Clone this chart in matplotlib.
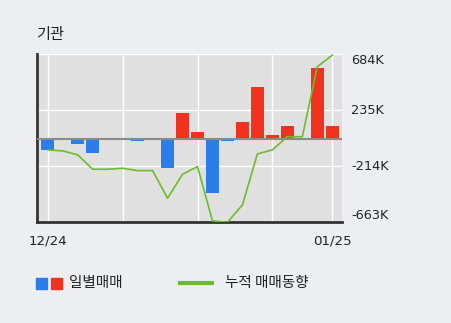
import matplotlib
matplotlib.use("Agg")
import matplotlib.pyplot as plt
from matplotlib.patches import Rectangle
from matplotlib.lines import Line2D
import numpy as np

plt.rcParams['font.family'] = ['Noto Sans CJK KR', 'DejaVu Sans']

title = "기관"
daily = [-85, 0, -40, -112, 10, 8, -10, 0, -227, 214, 61, -427, -10, 141, 422, 35, 107, 0, 574, 107]
cumulative = [-85, -93, -125, -240, -240, -232, -251, -251, -472, -280, -219, -654, -665, -526, -117, -85, 21, 21, 582, 675]
ytick_vals = [684, 235, -214, -663]
ytick_labels = ["684K", "235K", "-214K", "-663K"]
xtick_pos = [0, 19]
xtick_labels = ["12/24", "01/25"]
legend_bar = "일별매매"
legend_line = "누적 매매동향"

BLUE = "#2b7de9"
RED = "#f0321e"
GREEN = "#6cbd2c"
FIG_BG = "#edeef2"
AX_BG = "#e0e0e0"
TXT = "#222222"

fig = plt.figure(figsize=(4.51, 3.23), dpi=100, facecolor=FIG_BG)
W, H = 451, 323
ax = fig.add_axes([37 / W, 1 - 222 / H, (342 - 37) / W, (222 - 54) / H])
ax.set_facecolor(AX_BG)

x = np.arange(len(daily))
colors = [RED if v > 0 else BLUE for v in daily]
ax.bar(x, daily, width=0.87, color=colors, zorder=3)
ax.axhline(0, color="#8a8a8a", lw=1.5, zorder=4)
ax.plot(x, cumulative, color=GREEN, lw=1.2, zorder=5)

ax.set_xlim(-0.72, 19.65)
ax.set_ylim(-663, 684)

for gx in [0, 5, 10, 15, 19]:
    ax.axvline(gx, color="white", lw=1.0, zorder=1)
for gy in [235, -214, 684]:
    ax.axhline(gy, color="white", lw=1.0, zorder=1)

ax.set_yticks(ytick_vals)
ax.set_yticklabels(ytick_labels, family="DejaVu Sans")
ax.yaxis.tick_right()
ax.tick_params(axis="y", length=0, pad=6.5, labelsize=9.3, labelcolor=TXT)
vas = ["top", "center", "center", "bottom"]
for lab, va in zip(ax.get_yticklabels(), vas):
    lab.set_verticalalignment(va)

ax.set_xticks(xtick_pos)
ax.set_xticklabels(xtick_labels, family="DejaVu Sans")
ax.tick_params(axis="x", length=0, pad=9, labelsize=9.6, labelcolor=TXT)

for s in ["top", "right"]:
    ax.spines[s].set_visible(False)
ax.spines["left"].set_color("#333333")
ax.spines["left"].set_linewidth(2)
ax.spines["bottom"].set_color("#333333")
ax.spines["bottom"].set_linewidth(2)

fig.text(36 / W, 1 - 34 / H, title, fontsize=11, va="center", ha="left", color=TXT)

# legend
fig.add_artist(Rectangle((36 / W, 1 - 289 / H), 11 / W, 11 / H, transform=fig.transFigure, color=BLUE))
fig.add_artist(Rectangle((51 / W, 1 - 289 / H), 11 / W, 11 / H, transform=fig.transFigure, color=RED))
fig.text(69 / W, 1 - 283 / H, legend_bar, fontsize=10.5, va="center", ha="left", color=TXT)
fig.add_artist(Line2D([180 / W, 212 / W], [1 - 283 / H, 1 - 283 / H], transform=fig.transFigure, color=GREEN, lw=3))
fig.text(225 / W, 1 - 283 / H, legend_line, fontsize=10.5, va="center", ha="left", color=TXT)

fig.savefig("out.png", dpi=100, facecolor=FIG_BG)
